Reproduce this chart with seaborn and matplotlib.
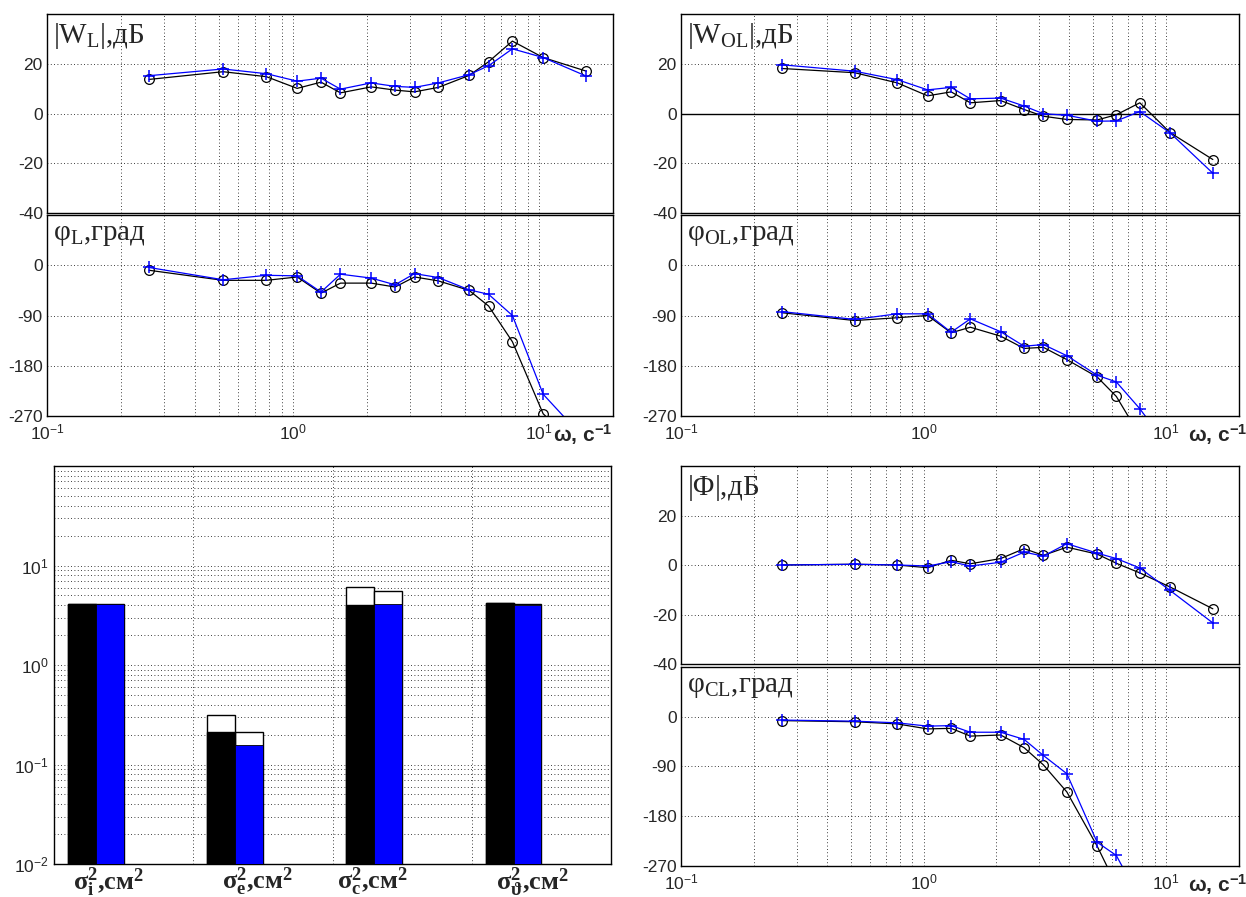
import numpy as np
import pandas as pd
import matplotlib.pyplot as plt
import matplotlib.transforms as mtransforms
import seaborn as sns

# frequencies, rad/s
freq = [0.26, 0.52, 0.78, 1.04, 1.30, 1.56, 2.08, 2.60, 3.12, 3.90, 5.20, 6.24, 7.80, 10.4, 15.6]

# |W_L|, dB  (black = circles, blue = plus)
wl_mag_black = [13.7, 16.8, 14.8, 10.1, 12.6, 8.3, 10.7, 9.4, 8.7, 10.5, 15.3, 20.8, 29.1, 22.5, 17.0]
wl_mag_blue = [15.2, 17.9, 16.0, 13.0, 14.2, 9.8, 12.3, 10.9, 10.5, 12.3, 15.6, 19.2, 26.0, 22.5, 15.0]
# phi_L, deg
wl_ph_black = [-9, -27, -27, -21, -50, -32, -32, -39, -21, -28, -45, -73, -137, -266, -340]
wl_ph_blue = [-4, -26, -18, -19, -48, -16, -23, -35, -15, -22, -44, -52, -90, -231, -315]

# |W_OL|, dB
wol_mag_black = [18.1, 16.4, 12.3, 7.1, 8.7, 4.3, 5.2, 1.6, -1.1, -2.4, -2.6, -0.5, 4.3, -7.7, -18.5]
wol_mag_blue = [19.6, 17.0, 13.6, 9.5, 10.5, 5.9, 6.2, 3.0, -0.1, -0.7, -3.1, -3.0, 0.8, -7.8, -24.0]
# phi_OL, deg
wol_ph_black = [-85, -99, -94, -90, -121, -111, -127, -149, -147, -169, -200, -235, -305, -370, -450]
wol_ph_blue = [-83, -97, -87, -87, -120, -96, -119, -145, -142, -162, -197, -209, -257, -330, -420]

# |Phi|, dB
cl_mag_black = [0.0, 0.3, 0.0, -1.1, 1.9, 0.5, 2.6, 6.6, 3.9, 7.2, 4.4, 0.7, -3.2, -8.9, -17.7]
cl_mag_blue = [0.0, 0.3, 0.0, -0.4, 1.3, -0.4, 1.1, 5.2, 3.6, 8.6, 4.8, 2.6, -1.2, -10.3, -23.4]
# phi_CL, deg
cl_ph_black = [-7, -9, -13, -22, -21, -35, -33, -56, -87, -136, -234, -305, -380, -450, -520]
cl_ph_blue = [-6, -8, -11, -17, -16, -28, -28, -41, -70, -103, -227, -251, -330, -400, -480]

# variances, cm^2
var_labels = ["$σ^{2}_{i}$,см$^{2}$", "$σ^{2}_{e}$,см$^{2}$",
              "$σ^{2}_{c}$,см$^{2}$", "$σ^{2}_{ϑ}$,см$^{2}$"]
var_black = [4.07, 0.214, 4.01, 4.17]
var_black_upper = [4.07, 0.316, 6.03, 4.17]
var_blue = [4.07, 0.156, 4.07, 4.0]
var_blue_upper = [4.07, 0.214, 5.49, 4.1]

sns.set_style("white")
plt.rcParams["font.family"] = ["Liberation Sans", "DejaVu Sans"]
plt.rcParams["mathtext.default"] = "regular"
plt.rcParams["axes.unicode_minus"] = False
plt.rcParams["axes.edgecolor"] = "black"
plt.rcParams["axes.linewidth"] = 1.0

W, H = 1246, 897
fig = plt.figure(figsize=(W / 100, H / 100), dpi=100)


def add_ax(x0, y0, x1, y1):
    return fig.add_axes([x0 / W, 1 - y1 / H, (x1 - x0) / W, (y1 - y0) / H])


grid_kw = dict(color="k", lw=0.6, ls=(0, (1, 3)))
serif = ["Liberation Serif", "DejaVu Serif"]


def bode(ax, y_black, y_blue, kind, label, show_x, omega_x=None):
    df = pd.DataFrame({"w": freq, "black": y_black, "blue": y_blue})
    sns.lineplot(data=df, x="w", y="black", ax=ax, color="black", lw=0.9, marker="o",
                 markersize=7, mfc="none", mec="black", mew=0.9, sort=False)
    sns.lineplot(data=df, x="w", y="blue", ax=ax, color="#0000ff", lw=0.9, marker="+",
                 markersize=8, mec="#0000ff", mew=1.1, sort=False)
    ax.set_xscale("log")
    ax.set_xlim(0.1, 20)
    if kind == "mag":
        ax.set_ylim(-40, 40)
        ax.set_yticks([-40, -20, 0, 20])
    else:
        ax.set_ylim(-270, 90)
        ax.set_yticks([-270, -180, -90, 0])
    ax.grid(True, which="both", axis="x", **grid_kw)
    ax.grid(True, which="major", axis="y", **grid_kw)
    ax.tick_params(direction="in", which="both", labelsize=12.5, length=4, pad=3)
    ax.tick_params(axis="x", pad=5)
    ax.tick_params(which="minor", length=2)
    if not show_x:
        ax.tick_params(labelbottom=False)
    ax.set_xlabel("")
    ax.set_ylabel("")
    ax.text(0.01, 0.965, label, transform=ax.transAxes, ha="left", va="top",
            fontsize=21, family=serif)
    if omega_x is not None:
        tr = mtransforms.blended_transform_factory(ax.transData, ax.transAxes)
        ax.text(omega_x, -0.03, "ω, с$^{-1}$", transform=tr, ha="left", va="top",
                fontsize=15, fontweight="bold")


ax1 = add_ax(47, 14, 613, 213)
ax2 = add_ax(47, 215, 613, 416)
ax3 = add_ax(681, 14, 1239, 213)
ax4 = add_ax(681, 215, 1239, 416)
ax5 = add_ax(54, 466, 611, 864)
ax6 = add_ax(681, 466, 1239, 664)
ax7 = add_ax(681, 667, 1239, 866)

bode(ax1, wl_mag_black, wl_mag_blue, "mag", "$|W_{L}|$,дБ", False)
bode(ax2, wl_ph_black, wl_ph_blue, "ph", "φ$_{L}$,град", True, omega_x=11.4)
bode(ax3, wol_mag_black, wol_mag_blue, "mag", "$|W_{OL}|$,дБ", False)
ax3.axhline(0, color="black", lw=1.0, zorder=1)
bode(ax4, wol_ph_black, wol_ph_blue, "ph", "φ$_{OL}$,град", True, omega_x=12.3)
bode(ax6, cl_mag_black, cl_mag_blue, "mag", "$|Φ|$,дБ", False)
bode(ax7, cl_ph_black, cl_ph_blue, "ph", "φ$_{CL}$,град", True, omega_x=12.3)

# bar chart of variances
groups = np.arange(len(var_black))
bw = 0.2
ax5.bar(groups + 0.2, var_black_upper, width=bw, color="white", edgecolor="black", lw=1, zorder=2)
ax5.bar(groups + 0.4, var_blue_upper, width=bw, color="white", edgecolor="black", lw=1, zorder=2)
ax5.bar(groups + 0.2, var_black, width=bw, color="black", edgecolor="black", lw=1, zorder=3)
ax5.bar(groups + 0.4, var_blue, width=bw, color="#0000ff", edgecolor="black", lw=0.6, zorder=3)
ax5.set_yscale("log")
ax5.set_ylim(1e-2, 1e2)
ax5.set_yticks([1e-2, 1e-1, 1, 10])
ax5.set_xlim(0, 4)
ax5.set_xticks([1, 2, 3])
ax5.tick_params(labelbottom=False, direction="in", which="both", labelsize=12.5, length=4)
ax5.grid(True, which="both", axis="y", **grid_kw)
ax5.grid(True, which="major", axis="x", **grid_kw)
ax5.set_axisbelow(True)
label_x = [0.39, 1.46, 2.29, 3.44]
tr5 = mtransforms.blended_transform_factory(ax5.transData, ax5.transAxes)
for lx, lab in zip(label_x, var_labels):
    ax5.text(lx, -0.003, lab, transform=tr5, ha="center", va="top", fontsize=19,
             fontweight="bold", family=serif)

fig.savefig("out.png", dpi=100)
